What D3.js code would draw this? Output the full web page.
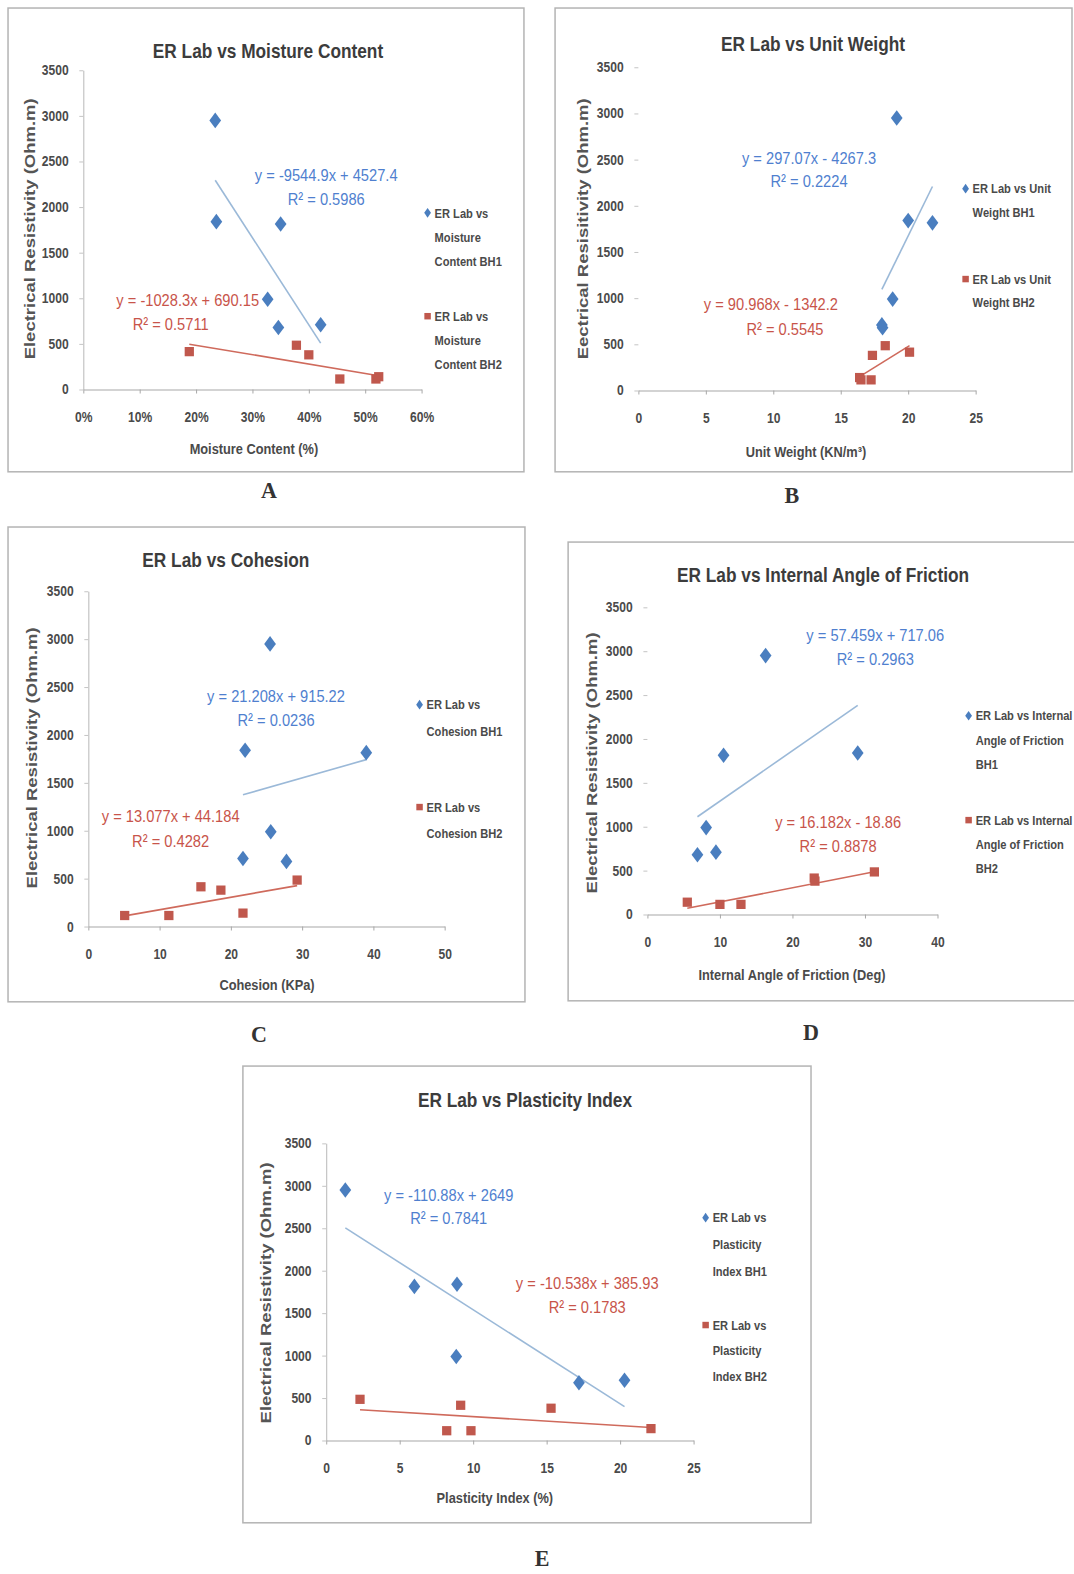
<!DOCTYPE html>
<html>
<head>
<meta charset="utf-8">
<script src="https://cdn.jsdelivr.net/npm/d3@7"></script>
<style>
  body { margin: 0; background: #fff; }
</style>
</head>
<body>
<svg id="fig" width="1074" height="1574"></svg>
<script>
// ER lab values (Ohm.m), same samples in every plot
const erBH1 = [2950, 1840, 1815, 990, 680, 710];
const erBH2 = [485, 415, 380, 140, 115, 115];

// soil properties, same order as the ER arrays
const moistureBH1 = [0.234, 0.236, 0.350, 0.327, 0.346, 0.421];
const moistureBH2 = [0.378, 0.188, 0.400, 0.524, 0.455, 0.519];
const unitWeightBH1 = [19.15, 20.0, 21.8, 18.85, 18.1, 18.05];
const unitWeightBH2 = [18.3, 20.1, 17.35, 16.4, 16.5, 17.25];
const cohesionBH1 = [25.5, 22.0, 39.0, 25.6, 27.8, 21.7];
const cohesionBH2 = [29.3, 15.8, 18.6, 21.7, 5.1, 11.3];
const frictionBH1 = [16.3, 29.0, 10.5, 8.1, 6.9, 9.45];
const frictionBH2 = [31.3, 23.0, 23.1, 5.5, 10.0, 12.9];
const plasticityBH1 = [1.3, 8.9, 6.0, 8.85, 17.2, 20.3];
const plasticityBH2 = [2.3, 9.15, 15.3, 22.1, 8.2, 9.85];

// linear trend lines as printed: [slope, intercept, R²]
const fitMoisture = [[-9544.9, 4527.4, 0.5986], [-1028.3, 690.15, 0.5711]];
const fitUnitWeight = [[297.07, -4267.3, 0.2224], [90.968, -1342.2, 0.5545]];
const fitCohesion = [[21.208, 915.22, 0.0236], [13.077, 44.184, 0.4282]];
const fitFriction = [[57.459, 717.06, 0.2963], [16.182, -18.86, 0.8878]];
const fitPlasticity = [[-110.88, 2649, 0.7841], [-10.538, 385.93, 0.1783]];

const yTicks = [0, 500, 1000, 1500, 2000, 2500, 3000, 3500];

const BLUE = "#4a7ebf", RED = "#c0584d";
const BLUE_TXT = "#4f7fcf", RED_TXT = "#c8544a";
const TREND_BLUE = "#9bb9d8", TREND_RED = "#cf6a5c";
const INK = "#4a4a4a";
const SANS = "'Liberation Sans', Arial, sans-serif";

// layout is in the 1070x1568 space of the scan, scaled to the page
const panels = [
  {
    letter: "A", letterPos: [268, 488],
    box: [8, 8, 522, 470], xr: [83, 420], yr: [388, 70], yLine: true,
    dom: [0, 0.6], ticks: d3.range(0, 0.61, 0.1), fmt: d3.format(".0%"),
    title: ["ER Lab vs Moisture Content", 267, 50],
    xTitle: ["Moisture Content (%)", 253, 447],
    yTitle: ["Electrical Resistivity (Ohm.m)", 30, 228],
    x1: moistureBH1, x2: moistureBH2, fit: fitMoisture,
    legX: 426,
    leg1: [["ER Lab vs", "Moisture", "Content BH1"], 212, 24],
    leg2: [["ER Lab vs", "Moisture", "Content BH2"], 315, 24],
    eq1: [325, 174, 325, 198], eq2: [187, 299, 170, 323]
  },
  {
    letter: "B", letterPos: [789, 493],
    box: [553, 8, 1068, 470], xr: [636, 972], yr: [389, 67], yLine: false,
    dom: [0, 25], ticks: d3.range(0, 26, 5), fmt: d3.format("d"),
    title: ["ER Lab vs Unit Weight", 810, 43],
    xTitle: ["Unit Weight (KN/m\u00B3)", 803, 450],
    yTitle: ["Eectrical Resisitivity (Ohm.m)", 581, 228],
    x1: unitWeightBH1, x2: unitWeightBH2, fit: fitUnitWeight,
    legX: 962,
    leg1: [["ER Lab vs Unit", "Weight BH1"], 188, 23],
    leg2: [["ER Lab vs Unit", "Weight BH2"], 278, 23],
    eq1: [806, 157, 806, 180], eq2: [768, 303, 782, 328]
  },
  {
    letter: "C", letterPos: [258, 1030],
    box: [8, 525, 523, 998], xr: [88, 443], yr: [923, 589], yLine: true,
    dom: [0, 50], ticks: d3.range(0, 51, 10), fmt: d3.format("d"),
    title: ["ER Lab vs Cohesion", 225, 557],
    xTitle: ["Cohesion (KPa)", 266, 981],
    yTitle: ["Electrical Resistivity (Ohm.m)", 32, 755],
    x1: cohesionBH1, x2: cohesionBH2, fit: fitCohesion,
    legX: 418,
    leg1: [["ER Lab vs", "Cohesion BH1"], 702, 26],
    leg2: [["ER Lab vs", "Cohesion BH2"], 804, 26],
    eq1: [275, 693, 275, 717], eq2: [170, 813, 170, 838]
  },
  {
    letter: "D", letterPos: [808, 1028],
    box: [566, 540, 1080, 997], xr: [645, 934], yr: [911, 605], yLine: false,
    dom: [0, 40], ticks: d3.range(0, 41, 10), fmt: d3.format("d"),
    title: ["ER Lab vs Internal Angle of Friction", 820, 572],
    xTitle: ["Internal Angle of Friction (Deg)", 789, 971],
    yTitle: ["Electrical Resistivity (Ohm.m)", 590, 760],
    x1: frictionBH1, x2: frictionBH2, fit: fitFriction,
    legX: 965,
    leg1: [["ER Lab vs Internal", "Angle of Friction", "BH1"], 713, 24],
    leg2: [["ER Lab vs Internal", "Angle of Friction", "BH2"], 817, 24],
    eq1: [872, 633, 872, 657], eq2: [835, 819, 835, 843]
  },
  {
    letter: "E", letterPos: [540, 1552],
    box: [242, 1062, 808, 1517], xr: [325, 691], yr: [1435, 1139], yLine: true,
    dom: [0, 25], ticks: d3.range(0, 26, 5), fmt: d3.format("d"),
    title: ["ER Lab vs Plasticity Index", 523, 1095],
    xTitle: ["Plasticity Index (%)", 493, 1492],
    yTitle: ["Electrical Resistivity (Ohm.m)", 265, 1288],
    x1: plasticityBH1, x2: plasticityBH2, fit: fitPlasticity,
    legX: 703,
    leg1: [["ER Lab vs", "Plasticity", "Index BH1"], 1213, 26.5],
    leg2: [["ER Lab vs", "Plasticity", "Index BH2"], 1320, 25.5],
    eq1: [447, 1190, 447, 1213], eq2: [585, 1278, 585, 1302]
  }
];

const svg = d3.select("#fig");
const root = svg.append("g").attr("transform", `scale(${1074 / 1070},${1574 / 1568})`);

const diamond = d3.symbol(d3.symbolDiamond, 70);
const square = d3.symbol(d3.symbolSquare, 85);

function eqText(f) {
  const sign = f[1] < 0 ? " - " : " + ";
  return `y = ${f[0]}x${sign}${Math.abs(f[1])}`;
}

// narrow-looking text: no condensed face installed, so squeeze horizontally
function label(g, x, y, str, o) {
  return g.append("text")
    .attr("transform", `translate(${x},${y}) scale(${o.sx || 1},1)`)
    .attr("dy", "0.35em")
    .attr("text-anchor", o.anchor || "middle")
    .attr("font-family", o.family || SANS)
    .attr("font-weight", o.weight || "bold")
    .attr("font-size", o.size)
    .attr("fill", o.fill || INK)
    .text(str);
}

panels.forEach(p => {
  const g = root.append("g");
  const x = d3.scaleLinear().domain(p.dom).range(p.xr);
  const y = d3.scaleLinear().domain([0, 3500]).range(p.yr);

  g.append("rect")
    .attr("x", p.box[0]).attr("y", p.box[1])
    .attr("width", p.box[2] - p.box[0]).attr("height", p.box[3] - p.box[1])
    .attr("fill", "#fff").attr("stroke", "#b4b4b4").attr("stroke-width", 1.5);

  // axes
  const xAxis = g.append("g").attr("transform", `translate(0,${p.yr[0]})`)
    .call(d3.axisBottom(x).tickValues(p.ticks).tickFormat(p.fmt).tickSizeInner(4).tickSizeOuter(0).tickPadding(18));
  xAxis.select(".domain").attr("stroke", "#a8a8a8");
  xAxis.selectAll(".tick line").attr("stroke", "#a8a8a8");

  const yAxis = g.append("g").attr("transform", `translate(${p.xr[0]},0)`)
    .call(d3.axisLeft(y).tickValues(yTicks).tickFormat(d3.format("d")).tickSizeInner(4).tickSizeOuter(0).tickPadding(13));
  yAxis.select(".domain").attr("stroke", p.yLine ? "#b8b8b8" : "none");
  yAxis.selectAll(".tick line").attr("stroke", "#c4c4c4");

  g.selectAll(".tick text")
    .attr("font-family", SANS).attr("font-weight", "bold")
    .attr("font-size", 14).attr("fill", INK)
    .attr("transform", "scale(0.86,1)");

  // trend lines over each series' x range
  [[p.x1, p.fit[0], TREND_BLUE], [p.x2, p.fit[1], TREND_RED]].forEach(([xs, f, c]) => {
    const ext = d3.extent(xs);
    g.append("path")
      .attr("d", d3.line().x(d => x(d)).y(d => y(f[0] * d + f[1]))(ext))
      .attr("stroke", c).attr("stroke-width", 1.6).attr("fill", "none");
  });

  // points
  g.selectAll(".bh2").data(d3.zip(p.x2, erBH2)).join("path")
    .attr("class", "bh2")
    .attr("d", square)
    .attr("transform", d => `translate(${x(d[0])},${y(d[1])})`)
    .attr("fill", RED);
  g.selectAll(".bh1").data(d3.zip(p.x1, erBH1)).join("path")
    .attr("class", "bh1")
    .attr("d", diamond)
    .attr("transform", d => `translate(${x(d[0])},${y(d[1])}) scale(1.3,1)`)
    .attr("fill", BLUE);

  // titles
  label(g, p.title[1], p.title[2], p.title[0], { size: 21, sx: 0.82, fill: "#3c3c3c" });
  label(g, p.xTitle[1], p.xTitle[2], p.xTitle[0], { size: 14.5, sx: 0.88 });
  g.append("text")
    .attr("transform", `translate(${p.yTitle[1]},${p.yTitle[2]}) rotate(-90)`)
    .attr("dy", "0.35em").attr("text-anchor", "middle")
    .attr("font-family", SANS).attr("font-weight", "bold")
    .attr("font-size", 15).attr("fill", "#555")
    .attr("textLength", 260).attr("lengthAdjust", "spacingAndGlyphs")
    .text(p.yTitle[0]);

  // legend
  [[p.leg1, BLUE, diamond, "scale(0.75,0.62)"], [p.leg2, RED, square, "scale(0.7)"]].forEach(([leg, c, sym, sc]) => {
    const [lines, top, step] = leg;
    g.append("path").attr("d", sym)
      .attr("transform", `translate(${p.legX},${top}) ${sc}`)
      .attr("fill", c);
    lines.forEach((t, i) => {
      label(g, p.legX + 7, top + i * step, t, { size: 13.5, sx: 0.82, anchor: "start" });
    });
  });

  // equations
  [[p.eq1, p.fit[0], BLUE_TXT], [p.eq2, p.fit[1], RED_TXT]].forEach(([pos, f, c]) => {
    label(g, pos[0], pos[1], eqText(f), { size: 17, sx: 0.86, weight: "normal", fill: c });
    label(g, pos[2], pos[3], `R\u00B2 = ${f[2]}`, { size: 17, sx: 0.86, weight: "normal", fill: c });
  });

  // panel letter under the box
  label(root, p.letterPos[0], p.letterPos[1], p.letter,
    { size: 22, family: "'Liberation Serif', serif", fill: "#333" });
});
</script>
</body>
</html>
